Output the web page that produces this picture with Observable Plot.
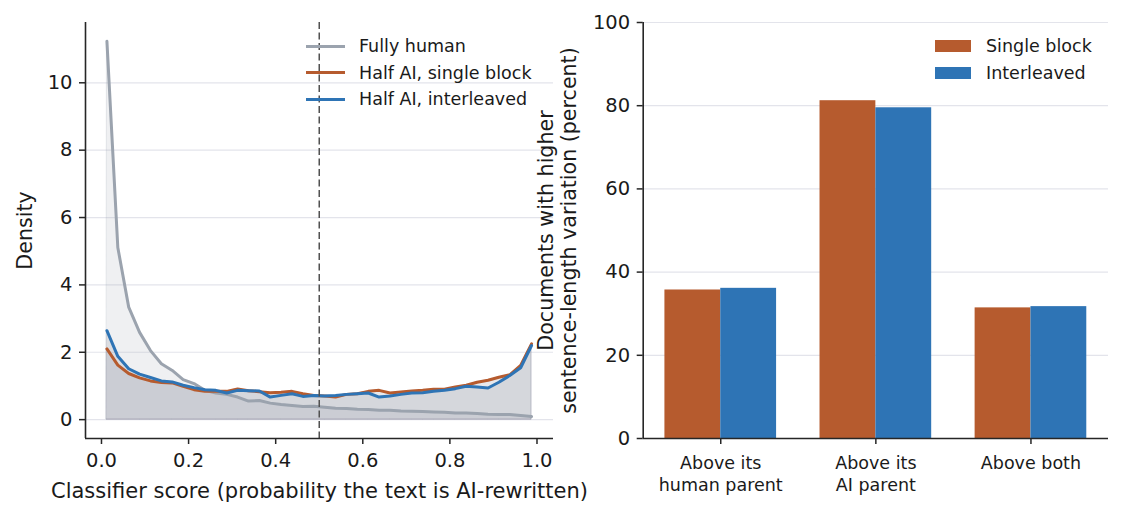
<!DOCTYPE html>
<html>
<head>
<meta charset="utf-8">
<script src="https://cdn.jsdelivr.net/npm/d3@7"></script>
<script src="https://cdn.jsdelivr.net/npm/@observablehq/plot@0.6"></script>
<style>
  html, body { margin: 0; padding: 0; background: #fff; }
  #wrap { position: relative; width: 1122px; height: 518px; background: #fff; font-family: "DejaVu Sans", sans-serif; color: #1a1a1a; overflow: hidden; }
  .chart { position: absolute; top: 0; }
  .leg { position: absolute; font-size: 17.5px; line-height: 20px; white-space: nowrap; }
  .sw-line { position: absolute; height: 3px; }
  .sw-rect { position: absolute; }
</style>
</head>
<body>
<div id="wrap">
  <div id="left" class="chart" style="left:0px"></div>
  <div id="right" class="chart" style="left:520px"></div>
</div>
<script>
// ---------- Data: left panel (density of classifier scores) ----------
const scoreBins = [0.0125, 0.0375, 0.0625, 0.0875, 0.1125, 0.1375, 0.1625, 0.1875, 0.2125, 0.2375,
                   0.2625, 0.2875, 0.3125, 0.3375, 0.3625, 0.3875, 0.4125, 0.4375, 0.4625, 0.4875,
                   0.5125, 0.5375, 0.5625, 0.5875, 0.6125, 0.6375, 0.6625, 0.6875, 0.7125, 0.7375,
                   0.7625, 0.7875, 0.8125, 0.8375, 0.8625, 0.8875, 0.9125, 0.9375, 0.9625, 0.9875];
const fullyHuman = [11.23, 5.11, 3.34, 2.59, 2.05, 1.66, 1.46, 1.19, 1.07, 0.87,
                    0.79, 0.75, 0.67, 0.55, 0.57, 0.49, 0.45, 0.42, 0.39, 0.40,
                    0.37, 0.34, 0.33, 0.31, 0.30, 0.28, 0.28, 0.26, 0.25, 0.24,
                    0.23, 0.22, 0.20, 0.20, 0.18, 0.16, 0.15, 0.15, 0.12, 0.09];
const halfSingle = [2.10, 1.62, 1.37, 1.24, 1.15, 1.10, 1.09, 0.99, 0.89, 0.84,
                    0.84, 0.84, 0.91, 0.86, 0.83, 0.80, 0.81, 0.84, 0.77, 0.72,
                    0.70, 0.67, 0.75, 0.77, 0.84, 0.87, 0.79, 0.82, 0.85, 0.87,
                    0.90, 0.90, 0.97, 1.02, 1.11, 1.17, 1.26, 1.33, 1.61, 2.25];
const halfInter  = [2.64, 1.88, 1.51, 1.35, 1.25, 1.15, 1.12, 1.02, 0.95, 0.89,
                    0.87, 0.79, 0.87, 0.86, 0.85, 0.67, 0.72, 0.77, 0.69, 0.72,
                    0.70, 0.72, 0.75, 0.77, 0.79, 0.67, 0.70, 0.75, 0.79, 0.80,
                    0.84, 0.87, 0.92, 0.99, 0.97, 0.94, 1.11, 1.31, 1.54, 2.20];
const seriesNames = ["Fully human", "Half AI, single block", "Half AI, interleaved"];
const threshold = [0.5];
const leftXTicks = [0, 0.2, 0.4, 0.6, 0.8, 1.0];
const leftYTicks = [0, 2, 4, 6, 8, 10];
const leftXLabel = "Classifier score (probability the text is AI-rewritten)";
const leftYLabel = "Density";

// ---------- Data: right panel (bars) ----------
const categories = ["Above its\nhuman parent", "Above its\nAI parent", "Above both"];
const barSeries = ["Single block", "Interleaved"];
const singleBlock = [35.7, 81.2, 31.4];
const interleaved = [36.1, 79.5, 31.7];
const rightYTicks = [0, 20, 40, 60, 80, 100];
const rightYLabel = "Documents with higher\nsentence-length variation (percent)";

// ---------- Styles ----------
const GRAY = "#9ba3ae", ORANGE = "#b65b2e", BLUE = "#2e74b5";
const FILLGRAY = "#8d909e";
const GRID = "#e3e4eb", SPINE = "#262626", INK = "#1a1a1a";
const FONT = "DejaVu Sans";

const toRows = vals => scoreBins.map((x, i) => ({x, y: vals[i]}));
const humanRows = toRows(fullyHuman), singleRows = toRows(halfSingle), interRows = toRows(halfInter);

const lxDomain = [-0.0367, 1.0379];
const lyDomain = [-0.56, 11.79];

const left = Plot.plot({
  width: 560, height: 518,
  marginLeft: 85, marginRight: 7, marginTop: 22, marginBottom: 80,
  style: {fontFamily: FONT, fontSize: "19.5px", color: INK, background: "transparent", overflow: "visible"},
  x: {domain: lxDomain},
  y: {domain: lyDomain},
  marks: [
    Plot.gridY({ticks: leftYTicks, stroke: GRID, strokeOpacity: 1, strokeWidth: 1.2}),
    Plot.areaY(humanRows, {x: "x", y: "y", fill: GRAY, fillOpacity: 0.16, stroke: GRAY, strokeOpacity: 0.25, strokeWidth: 1}),
    Plot.areaY(singleRows, {x: "x", y: "y", fill: FILLGRAY, fillOpacity: 0.2, stroke: FILLGRAY, strokeOpacity: 0.25, strokeWidth: 1}),
    Plot.areaY(interRows, {x: "x", y: "y", fill: FILLGRAY, fillOpacity: 0.2, stroke: FILLGRAY, strokeOpacity: 0.25, strokeWidth: 1}),
    Plot.lineY(humanRows, {x: "x", y: "y", stroke: GRAY, strokeWidth: 3, strokeLinejoin: "round"}),
    Plot.lineY(singleRows, {x: "x", y: "y", stroke: ORANGE, strokeWidth: 3, strokeLinejoin: "round"}),
    Plot.lineY(interRows, {x: "x", y: "y", stroke: BLUE, strokeWidth: 3, strokeLinejoin: "round"}),
    Plot.ruleX(threshold, {stroke: "#505050", strokeWidth: 1.5, strokeDasharray: "7,3.5"}),
    Plot.ruleX([lxDomain[0]], {stroke: SPINE, strokeWidth: 1.6}),
    Plot.ruleY([lyDomain[0]], {stroke: SPINE, strokeWidth: 1.6}),
    Plot.axisX({ticks: leftXTicks, tickFormat: d3.format(".1f"), tickSize: 6, tickPadding: 9, strokeWidth: 1.5, stroke: SPINE, fontSize: 19.5, label: null}),
    Plot.axisY({ticks: leftYTicks, tickSize: 6, tickPadding: 7, strokeWidth: 1.5, stroke: SPINE, fontSize: 19.5, label: null}),
    Plot.text([leftXLabel], {text: d => d, frameAnchor: "bottom", dy: 53, textAnchor: "middle", lineAnchor: "middle", fontSize: 21, fill: INK}),
    Plot.text([leftYLabel], {text: d => d, frameAnchor: "left", dx: -60, rotate: -90, textAnchor: "middle", lineAnchor: "middle", fontSize: 20.6, fill: INK})
  ]
});
document.getElementById("left").appendChild(left);

// ---------- Right panel ----------
const barW = 0.36;
const singleRowsB = categories.map((c, i) => ({i, v: singleBlock[i]}));
const interRowsB = categories.map((c, i) => ({i, v: interleaved[i]}));
const rxDomain = [-0.5, 2.5];
const ryDomain = [0, 100];

const right = Plot.plot({
  width: 602, height: 518,
  marginLeft: 122.7, marginRight: 14, marginTop: 22, marginBottom: 80,
  style: {fontFamily: FONT, fontSize: "19.5px", color: INK, background: "transparent", overflow: "visible"},
  x: {domain: rxDomain},
  y: {domain: ryDomain},
  marks: [
    Plot.gridY({ticks: rightYTicks, stroke: GRID, strokeOpacity: 1, strokeWidth: 1.2}),
    Plot.rectY(singleRowsB, {x1: d => d.i - barW, x2: d => d.i, y: "v", fill: ORANGE}),
    Plot.rectY(interRowsB, {x1: d => d.i, x2: d => d.i + barW, y: "v", fill: BLUE}),
    Plot.ruleX([rxDomain[0]], {stroke: SPINE, strokeWidth: 1.6}),
    Plot.ruleY([ryDomain[0]], {stroke: SPINE, strokeWidth: 1.6}),
    Plot.axisX({ticks: categories.map((c, i) => i), tickFormat: i => categories[i], tickSize: 6, tickPadding: 9, strokeWidth: 1.5, stroke: SPINE, fontSize: 17.5, lineHeight: 1.26, label: null}),
    Plot.axisY({ticks: rightYTicks, tickSize: 6, tickPadding: 7, strokeWidth: 1.5, stroke: SPINE, fontSize: 19.5, label: null}),
    Plot.text([rightYLabel], {text: d => d, frameAnchor: "left", dx: -86, rotate: -90, textAnchor: "middle", lineAnchor: "middle", fontSize: 20.6, lineHeight: 1.12, fill: INK})
  ]
});
document.getElementById("right").appendChild(right);

// ---------- Legends (HTML) ----------
const wrap = document.getElementById("wrap");
const lineColors = [GRAY, ORANGE, BLUE];
seriesNames.forEach((name, k) => {
  const cy = 46 + k * 26.6;
  const sw = document.createElement("div");
  sw.className = "sw-line";
  sw.style.cssText = `left:306px;width:39px;top:${cy - 1.5}px;background:${lineColors[k]}`;
  wrap.appendChild(sw);
  const t = document.createElement("div");
  t.className = "leg";
  t.style.cssText = `left:359px;top:${cy - 10}px`;
  t.textContent = name;
  wrap.appendChild(t);
});
const barColors = [ORANGE, BLUE];
barSeries.forEach((name, k) => {
  const cy = 46 + k * 27;
  const sw = document.createElement("div");
  sw.className = "sw-rect";
  sw.style.cssText = `left:935px;width:36px;height:12px;top:${cy - 6}px;background:${barColors[k]}`;
  wrap.appendChild(sw);
  const t = document.createElement("div");
  t.className = "leg";
  t.style.cssText = `left:986px;top:${cy - 10}px`;
  t.textContent = name;
  wrap.appendChild(t);
});
</script>
</body>
</html>
